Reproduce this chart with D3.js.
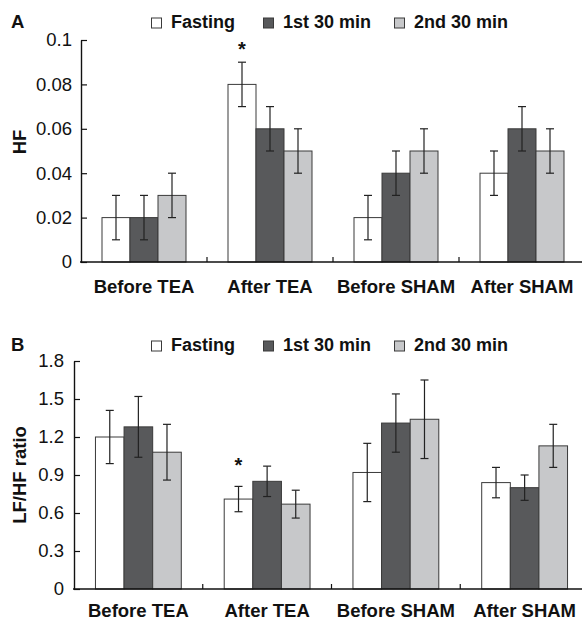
<!DOCTYPE html>
<html>
<head>
<meta charset="utf-8">
<script src="https://cdn.jsdelivr.net/npm/d3@7"></script>
<style>
  body { margin: 0; background: #fff; }
  svg { display: block; font-family: "Liberation Sans", Arial, Helvetica, sans-serif; }
</style>
</head>
<body>
<div id="chart"></div>
<script>
// data
const categories = ["Before TEA", "After TEA", "Before SHAM", "After SHAM"];
const seriesNames = ["Fasting", "1st 30 min", "2nd 30 min"];

// panel A: HF
const hfValues = [[0.02, 0.02, 0.03], [0.08, 0.06, 0.05], [0.02, 0.04, 0.05], [0.04, 0.06, 0.05]];
const hfErrors = [[0.01, 0.01, 0.01], [0.01, 0.01, 0.01], [0.01, 0.01, 0.01], [0.01, 0.01, 0.01]];
const hfTicks = [0, 0.02, 0.04, 0.06, 0.08, 0.1];
const hfTickLabels = ["0", "0.02", "0.04", "0.06", "0.08", "0.1"];

// panel B: LF/HF ratio
const ratioValues = [[1.20, 1.28, 1.08], [0.71, 0.85, 0.67], [0.92, 1.31, 1.34], [0.84, 0.80, 1.13]];
const ratioErrors = [[0.21, 0.24, 0.22], [0.10, 0.12, 0.11], [0.23, 0.23, 0.31], [0.12, 0.10, 0.17]];
const ratioTicks = [0, 0.3, 0.6, 0.9, 1.2, 1.5, 1.8];
const ratioTickLabels = ["0", "0.3", "0.6", "0.9", "1.2", "1.5", "1.8"];

// significance marks: category, series, level in data units
const hfStars = [{cat: "After TEA", series: "Fasting", level: 0.0985}];
const ratioStars = [{cat: "After TEA", series: "Fasting", level: 1.02}];

const W = 582, H = 619;
const colors = d3.scaleOrdinal().domain(seriesNames).range(["#ffffff", "#58595b", "#c7c8ca"]);

const svg = d3.select("#chart").append("svg")
    .attr("width", W)
    .attr("height", H);

function drawPanel(cfg){
    const g = svg.append("g").attr("class", "panel");

    const xScale = d3.scaleBand().domain(categories).range([cfg.left, cfg.right]).padding(0);
    const inner = d3.scaleBand().domain(seriesNames).range([0, xScale.bandwidth()])
        .paddingInner(0).paddingOuter(0.75);
    const yScale = d3.scaleLinear().domain([0, d3.max(cfg.ticks)]).range([cfg.bottom, cfg.top]);

    // bars
    const rows = [];
    categories.forEach((c, i) => {
        seriesNames.forEach((s, j) => {
            rows.push({cat: c, series: s, value: cfg.values[i][j], err: cfg.errors[i][j]});
        });
    });

    const barG = g.selectAll(".barG")
        .data(rows)
        .join("g")
        .attr("class", "barG")
        .attr("transform", d => "translate(" + (xScale(d.cat) + inner(d.series)) + ",0)");

    barG.append("rect")
        .attr("x", 0)
        .attr("y", d => yScale(d.value))
        .attr("width", inner.bandwidth())
        .attr("height", d => yScale(0) - yScale(d.value))
        .attr("fill", d => colors(d.series))
        .attr("stroke", "#3a3a3a")
        .attr("stroke-width", 1);

    // error bars
    const cx = inner.bandwidth() / 2;
    const cap = 4;
    barG.append("line")
        .attr("x1", cx).attr("x2", cx)
        .attr("y1", d => yScale(d.value + d.err))
        .attr("y2", d => yScale(d.value - d.err))
        .attr("stroke", "#222").attr("stroke-width", 1.2);
    barG.append("line")
        .attr("x1", cx - cap).attr("x2", cx + cap)
        .attr("y1", d => yScale(d.value + d.err))
        .attr("y2", d => yScale(d.value + d.err))
        .attr("stroke", "#222").attr("stroke-width", 1.2);
    barG.append("line")
        .attr("x1", cx - cap).attr("x2", cx + cap)
        .attr("y1", d => yScale(d.value - d.err))
        .attr("y2", d => yScale(d.value - d.err))
        .attr("stroke", "#222").attr("stroke-width", 1.2);

    // y axis, inward ticks
    const yAxis = d3.axisLeft(yScale)
        .tickValues(cfg.ticks)
        .tickFormat((d, i) => cfg.tickLabels[i])
        .tickSizeInner(-6)
        .tickSizeOuter(0)
        .tickPadding(cfg.tickPad);
    const yAxisG = g.append("g")
        .attr("class", "yAxisG")
        .attr("transform", "translate(" + cfg.left + ",0)")
        .call(yAxis);
    yAxisG.select(".domain").attr("stroke", "#111").attr("stroke-width", 1.4);
    yAxisG.selectAll(".tick line").attr("stroke", "#111").attr("stroke-width", 1.2);
    yAxisG.selectAll(".tick text")
        .attr("fill", "#111")
        .style("font-size", "18.5px");

    // x axis: baseline, labels and small boundary ticks
    const xAxis = d3.axisBottom(xScale).tickSize(0).tickPadding(cfg.xPad);
    const xAxisG = g.append("g")
        .attr("class", "xAxisG")
        .attr("transform", "translate(0," + cfg.bottom + ")")
        .call(xAxis);
    xAxisG.select(".domain").remove();
    xAxisG.selectAll(".tick text")
        .attr("fill", "#111")
        .style("font-size", "18.5px")
        .style("font-weight", "bold");

    g.append("line")
        .attr("x1", cfg.left - 1).attr("x2", cfg.right)
        .attr("y1", cfg.bottom).attr("y2", cfg.bottom)
        .attr("stroke", "#111").attr("stroke-width", 1.4);

    g.selectAll(".sepTick")
        .data(categories.slice(1))
        .join("line")
        .attr("class", "sepTick")
        .attr("x1", d => xScale(d)).attr("x2", d => xScale(d))
        .attr("y1", cfg.bottom).attr("y2", cfg.bottom - 5)
        .attr("stroke", "#111").attr("stroke-width", 1.2);

    // significance stars
    g.selectAll(".star")
        .data(cfg.stars)
        .join("text")
        .attr("class", "star")
        .attr("x", d => xScale(d.cat) + inner(d.series) + inner.bandwidth() / 2)
        .attr("y", d => yScale(d.level))
        .attr("dy", "0.62em")
        .attr("text-anchor", "middle")
        .style("font-size", "20px")
        .style("font-weight", "bold")
        .attr("fill", "#111")
        .text("*");

    // y title
    g.append("text")
        .attr("transform", "translate(" + cfg.yTitleX + "," + cfg.yTitleY + ") rotate(-90)")
        .attr("text-anchor", "middle")
        .style("font-size", "18.5px")
        .style("font-weight", "bold")
        .attr("fill", "#111")
        .text(cfg.yTitle);

    // panel letter
    g.append("text")
        .attr("x", 11).attr("y", cfg.legendY)
        .style("font-size", "18.5px")
        .style("font-weight", "bold")
        .attr("fill", "#111")
        .text(cfg.letter);

    // legend
    const legendX = [151, 263, 394];
    const leg = g.selectAll(".legendItem")
        .data(seriesNames)
        .join("g")
        .attr("class", "legendItem")
        .attr("transform", (d, i) => "translate(" + legendX[i] + "," + cfg.legendY + ")");
    leg.append("rect")
        .attr("x", 0.5).attr("y", -10)
        .attr("width", 10).attr("height", 10)
        .attr("fill", d => colors(d))
        .attr("stroke", "#3a3a3a")
        .attr("stroke-width", 1);
    leg.append("text")
        .attr("x", 20).attr("y", 0)
        .style("font-size", "18px")
        .style("font-weight", "bold")
        .attr("fill", "#111")
        .text(d => d);
}

drawPanel({
    letter: "A", yTitle: "HF",
    values: hfValues, errors: hfErrors,
    ticks: hfTicks, tickLabels: hfTickLabels, stars: hfStars,
    top: 40, bottom: 262, left: 81, right: 585,
    tickPad: 9, xPad: 18, legendY: 28, yTitleX: 26, yTitleY: 142
});

drawPanel({
    letter: "B", yTitle: "LF/HF ratio",
    values: ratioValues, errors: ratioErrors,
    ticks: ratioTicks, tickLabels: ratioTickLabels, stars: ratioStars,
    top: 361, bottom: 589, left: 74, right: 589,
    tickPad: 10, xPad: 15, legendY: 351, yTitleX: 26, yTitleY: 475
});
</script>
</body>
</html>
